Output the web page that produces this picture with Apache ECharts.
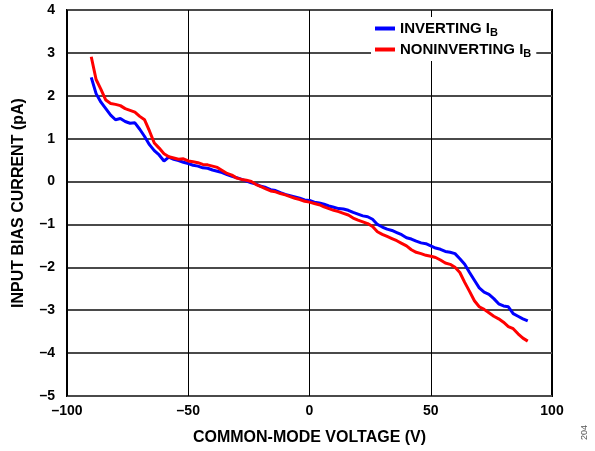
<!DOCTYPE html>
<html>
<head>
<meta charset="utf-8">
<script src="https://cdn.jsdelivr.net/npm/echarts@6/dist/echarts.min.js"></script>
<style>
  html, body { margin: 0; padding: 0; background: #fff; }
  #chart { width: 595px; height: 451px; }
</style>
</head>
<body>
<div id="chart"></div>
<script>
// Common-mode voltage sweep (V), every 2 V from -90 to 90
const voltage = [];
for (let v = -90; v <= 90; v += 2) voltage.push(v);

// Inverting input bias current (pA)
const invertingIB = [
  2.43, 2.05, 1.85, 1.70, 1.55, 1.44, 1.47, 1.40, 1.36, 1.37,
  1.22, 1.05, 0.86, 0.72, 0.62, 0.48, 0.57, 0.52, 0.49, 0.45,
  0.42, 0.38, 0.36, 0.32, 0.31, 0.27, 0.24, 0.21, 0.16, 0.12,
  0.09, 0.05, 0.01, -0.03, -0.06, -0.11, -0.14, -0.19, -0.21, -0.26,
  -0.30, -0.33, -0.36, -0.39, -0.43, -0.44, -0.48, -0.50, -0.53, -0.57,
  -0.60, -0.63, -0.64, -0.67, -0.72, -0.76, -0.80, -0.82, -0.88, -1.00,
  -1.06, -1.11, -1.14, -1.19, -1.24, -1.31, -1.34, -1.39, -1.43, -1.45,
  -1.50, -1.55, -1.58, -1.63, -1.65, -1.68, -1.80, -1.93, -2.12, -2.30,
  -2.48, -2.58, -2.63, -2.73, -2.85, -2.90, -2.92, -3.08, -3.14, -3.20,
  -3.25
];

// Noninverting input bias current (pA)
const noninvertingIB = [
  2.91, 2.38, 2.15, 1.90, 1.82, 1.80, 1.77, 1.70, 1.66, 1.62,
  1.52, 1.44, 1.18, 0.90, 0.78, 0.65, 0.58, 0.55, 0.52, 0.53,
  0.48, 0.46, 0.44, 0.40, 0.39, 0.36, 0.33, 0.26, 0.19, 0.15,
  0.08, 0.05, 0.03, 0.00, -0.07, -0.12, -0.17, -0.22, -0.24, -0.28,
  -0.31, -0.35, -0.39, -0.42, -0.46, -0.48, -0.51, -0.54, -0.59, -0.63,
  -0.67, -0.70, -0.74, -0.78, -0.85, -0.90, -0.94, -0.98, -1.05, -1.17,
  -1.23, -1.28, -1.33, -1.38, -1.44, -1.50, -1.59, -1.65, -1.68, -1.72,
  -1.74, -1.77, -1.83, -1.90, -1.93, -2.00, -2.12, -2.35, -2.56, -2.78,
  -2.92, -2.98, -3.06, -3.14, -3.20, -3.28, -3.38, -3.43, -3.55, -3.65,
  -3.72
];

const xTicks = [-100, -50, 0, 50, 100];
const yTicks = [-5, -4, -3, -2, -1, 0, 1, 2, 3, 4];

const FONT = 'Liberation Sans, Arial, sans-serif';
const minus = v => String(v).replace('-', '\u2013');

const chart = echarts.init(document.getElementById('chart'), null, { renderer: 'canvas' });

chart.setOption({
  animation: false,
  backgroundColor: '#fff',
  grid: {
    left: 67, right: 43, top: 10, bottom: 54,
    show: true, borderColor: '#000', borderWidth: 2, backgroundColor: 'transparent'
  },
  legend: {
    left: 371, top: 17,
    orient: 'vertical',
    backgroundColor: '#fff',
    padding: [2, 5, 2, 4],
    itemGap: 2,
    itemWidth: 20, itemHeight: 4,
    icon: 'rect',
    data: ['INVERTING', 'NONINVERTING'],
    formatter: name => '{a|' + name + ' I}{b|B}',
    textStyle: {
      padding: [0, 0, 0, 0],
      rich: {
        a: { fontFamily: FONT, fontWeight: 'bold', fontSize: 15, lineHeight: 17, color: '#000' },
        b: { fontFamily: FONT, fontWeight: 'bold', fontSize: 11, lineHeight: 17, color: '#000', padding: [8, 0, 0, 0] }
      }
    }
  },
  xAxis: {
    type: 'value',
    min: xTicks[0], max: xTicks[xTicks.length - 1], interval: 50,
    name: 'COMMON-MODE VOLTAGE (V)',
    nameLocation: 'middle', nameGap: 34,
    nameTextStyle: { fontFamily: FONT, fontWeight: 'bold', fontSize: 16, color: '#000' },
    axisLine: { show: false, onZero: false },
    axisTick: { show: false },
    axisLabel: { fontFamily: FONT, fontWeight: 'bold', fontSize: 14, color: '#000', margin: 8, formatter: minus },
    splitLine: { show: true, lineStyle: { color: '#000', width: 1 } }
  },
  yAxis: {
    type: 'value',
    min: yTicks[0], max: yTicks[yTicks.length - 1], interval: 1,
    name: 'INPUT BIAS CURRENT (pA)',
    nameLocation: 'middle', nameGap: 40,
    nameTextStyle: { fontFamily: FONT, fontWeight: 'bold', fontSize: 16, color: '#000' },
    axisLine: { show: false },
    axisTick: { show: false },
    axisLabel: { fontFamily: FONT, fontWeight: 'bold', fontSize: 14, color: '#000', margin: 12, formatter: minus },
    splitLine: { show: true, lineStyle: { color: '#4a4a4a', width: 2 } }
  },
  series: [
    {
      name: 'INVERTING', type: 'line', showSymbol: false, color: '#0000ff',
      lineStyle: { width: 3, color: '#0000ff' },
      data: voltage.map((v, i) => [v, invertingIB[i]])
    },
    {
      name: 'NONINVERTING', type: 'line', showSymbol: false, color: '#ff0000',
      lineStyle: { width: 3, color: '#ff0000' },
      data: voltage.map((v, i) => [v, noninvertingIB[i]])
    }
  ],
  graphic: [
    {
      type: 'text', left: 580, top: 425, rotation: Math.PI / 2,
      style: { text: '204', fontFamily: FONT, fontSize: 9, fill: '#555' }
    }
  ]
});
</script>
</body>
</html>
